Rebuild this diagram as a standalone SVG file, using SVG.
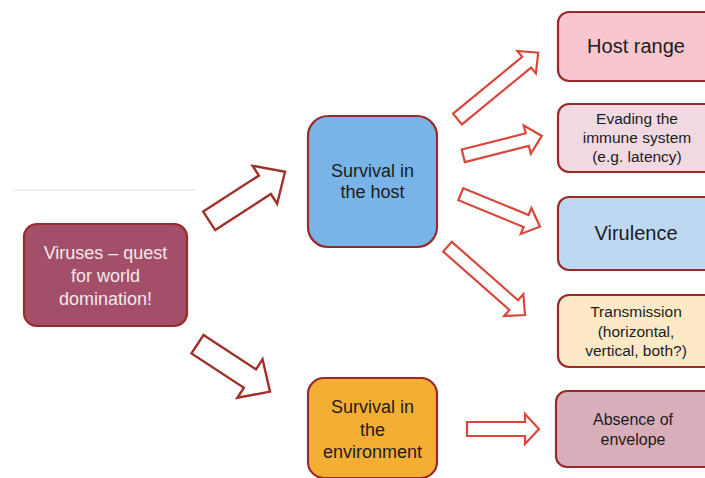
<svg xmlns="http://www.w3.org/2000/svg" width="705" height="478" viewBox="0 0 705 478">
<style>
.box{stroke:#9a2a2a;stroke-width:2.2}
.t{font-family:"Liberation Sans",Arial,sans-serif;fill:#1c1c1c;text-anchor:middle}
.w{fill:#f5e8ec}
.arrL{fill:#fff;stroke:#a0302a;stroke-width:2.4;stroke-linejoin:miter}
.arrR{fill:#fff;stroke:#d9463a;stroke-width:2.2;stroke-linejoin:miter}
</style>
<rect width="705" height="478" fill="#fff"/>
<line x1="13" y1="190" x2="196" y2="190" stroke="#dedede" stroke-width="1"/>
<g id="connectors">
<path class="arrL" transform="translate(209.2,220.8) rotate(-32.9)" d="M0,-11 L66.3,-11 L66.3,-22.6 L90.3,0 L66.3,22.6 L66.3,11 L0,11 Z"/>
<path class="arrL" transform="translate(197.5,344.2) rotate(33.2)" d="M0,-11 L62.7,-11 L62.7,-23 L86.7,0 L62.7,23 L62.7,11 L0,11 Z"/>
<path class="arrR" transform="translate(457.5,119) rotate(-39.4)" d="M0,-7 L89.5,-7 L89.5,-14.5 L104.5,0 L89.5,14.5 L89.5,7 L0,7 Z"/>
<path class="arrR" transform="translate(463.3,155.8) rotate(-14.2)" d="M0,-6.5 L66,-6.5 L66,-14.5 L81,0 L66,14.5 L66,6.5 L0,6.5 Z"/>
<path class="arrR" transform="translate(460.8,194.2) rotate(22.3)" d="M0,-6.5 L70.6,-6.5 L70.6,-14 L85.6,0 L70.6,14 L70.6,6.5 L0,6.5 Z"/>
<path class="arrR" transform="translate(447.5,246.7) rotate(41.4)" d="M0,-6.5 L88.3,-6.5 L88.3,-14.5 L103.3,0 L88.3,14.5 L88.3,6.5 L0,6.5 Z"/>
<path class="arrR" transform="translate(467,429)" d="M0,-7 L58,-7 L58,-15 L72,0 L58,15 L58,7 L0,7 Z"/>
</g>
<g id="main">
<rect class="box" x="24" y="224" width="163" height="102" rx="13" fill="#a44f69"/>
<text class="t w" font-size="18" x="105.5" y="259">Viruses – quest</text>
<text class="t w" font-size="18" x="105.5" y="282">for world</text>
<text class="t w" font-size="18" x="105.5" y="305">domination!</text>
</g>
<g id="host">
<rect class="box" x="308" y="116" width="129" height="131" rx="20" fill="#78b4e7"/>
<text class="t" font-size="18" x="372.5" y="177">Survival in</text>
<text class="t" font-size="18" x="372.5" y="198">the host</text>
</g>
<g id="env">
<rect class="box" x="308" y="378" width="129" height="100" rx="16" fill="#f5ae34"/>
<text class="t" font-size="18" x="372.5" y="413">Survival in</text>
<text class="t" font-size="18" x="372.5" y="436">the</text>
<text class="t" font-size="18" x="372.5" y="458">environment</text>
</g>
<g id="hostrange">
<rect class="box" x="558" y="12" width="160" height="69" rx="11" fill="#f7c6cf"/>
<text class="t" font-size="20" x="636" y="53">Host range</text>
</g>
<g id="evading">
<rect class="box" x="558" y="104" width="160" height="68" rx="11" fill="#f0d9e1"/>
<text class="t" font-size="15.5" x="637" y="124">Evading the</text>
<text class="t" font-size="15.5" x="637" y="143">immune system</text>
<text class="t" font-size="15.5" x="637" y="162">(e.g. latency)</text>
</g>
<g id="virulence">
<rect class="box" x="558" y="197" width="160" height="73" rx="11" fill="#bed8f1"/>
<text class="t" font-size="20" x="636" y="240">Virulence</text>
</g>
<g id="transmission">
<rect class="box" x="558" y="295" width="160" height="72" rx="11" fill="#fde9c6"/>
<text class="t" font-size="15.5" x="636" y="317">Transmission</text>
<text class="t" font-size="15.5" x="636" y="337">(horizontal,</text>
<text class="t" font-size="15.5" x="636" y="356">vertical, both?)</text>
</g>
<g id="envelope">
<rect class="box" x="556" y="391" width="162" height="76" rx="11" fill="#d8aebb"/>
<text class="t" font-size="16" x="633" y="425">Absence of</text>
<text class="t" font-size="16" x="633" y="445">envelope</text>
</g>
</svg>
